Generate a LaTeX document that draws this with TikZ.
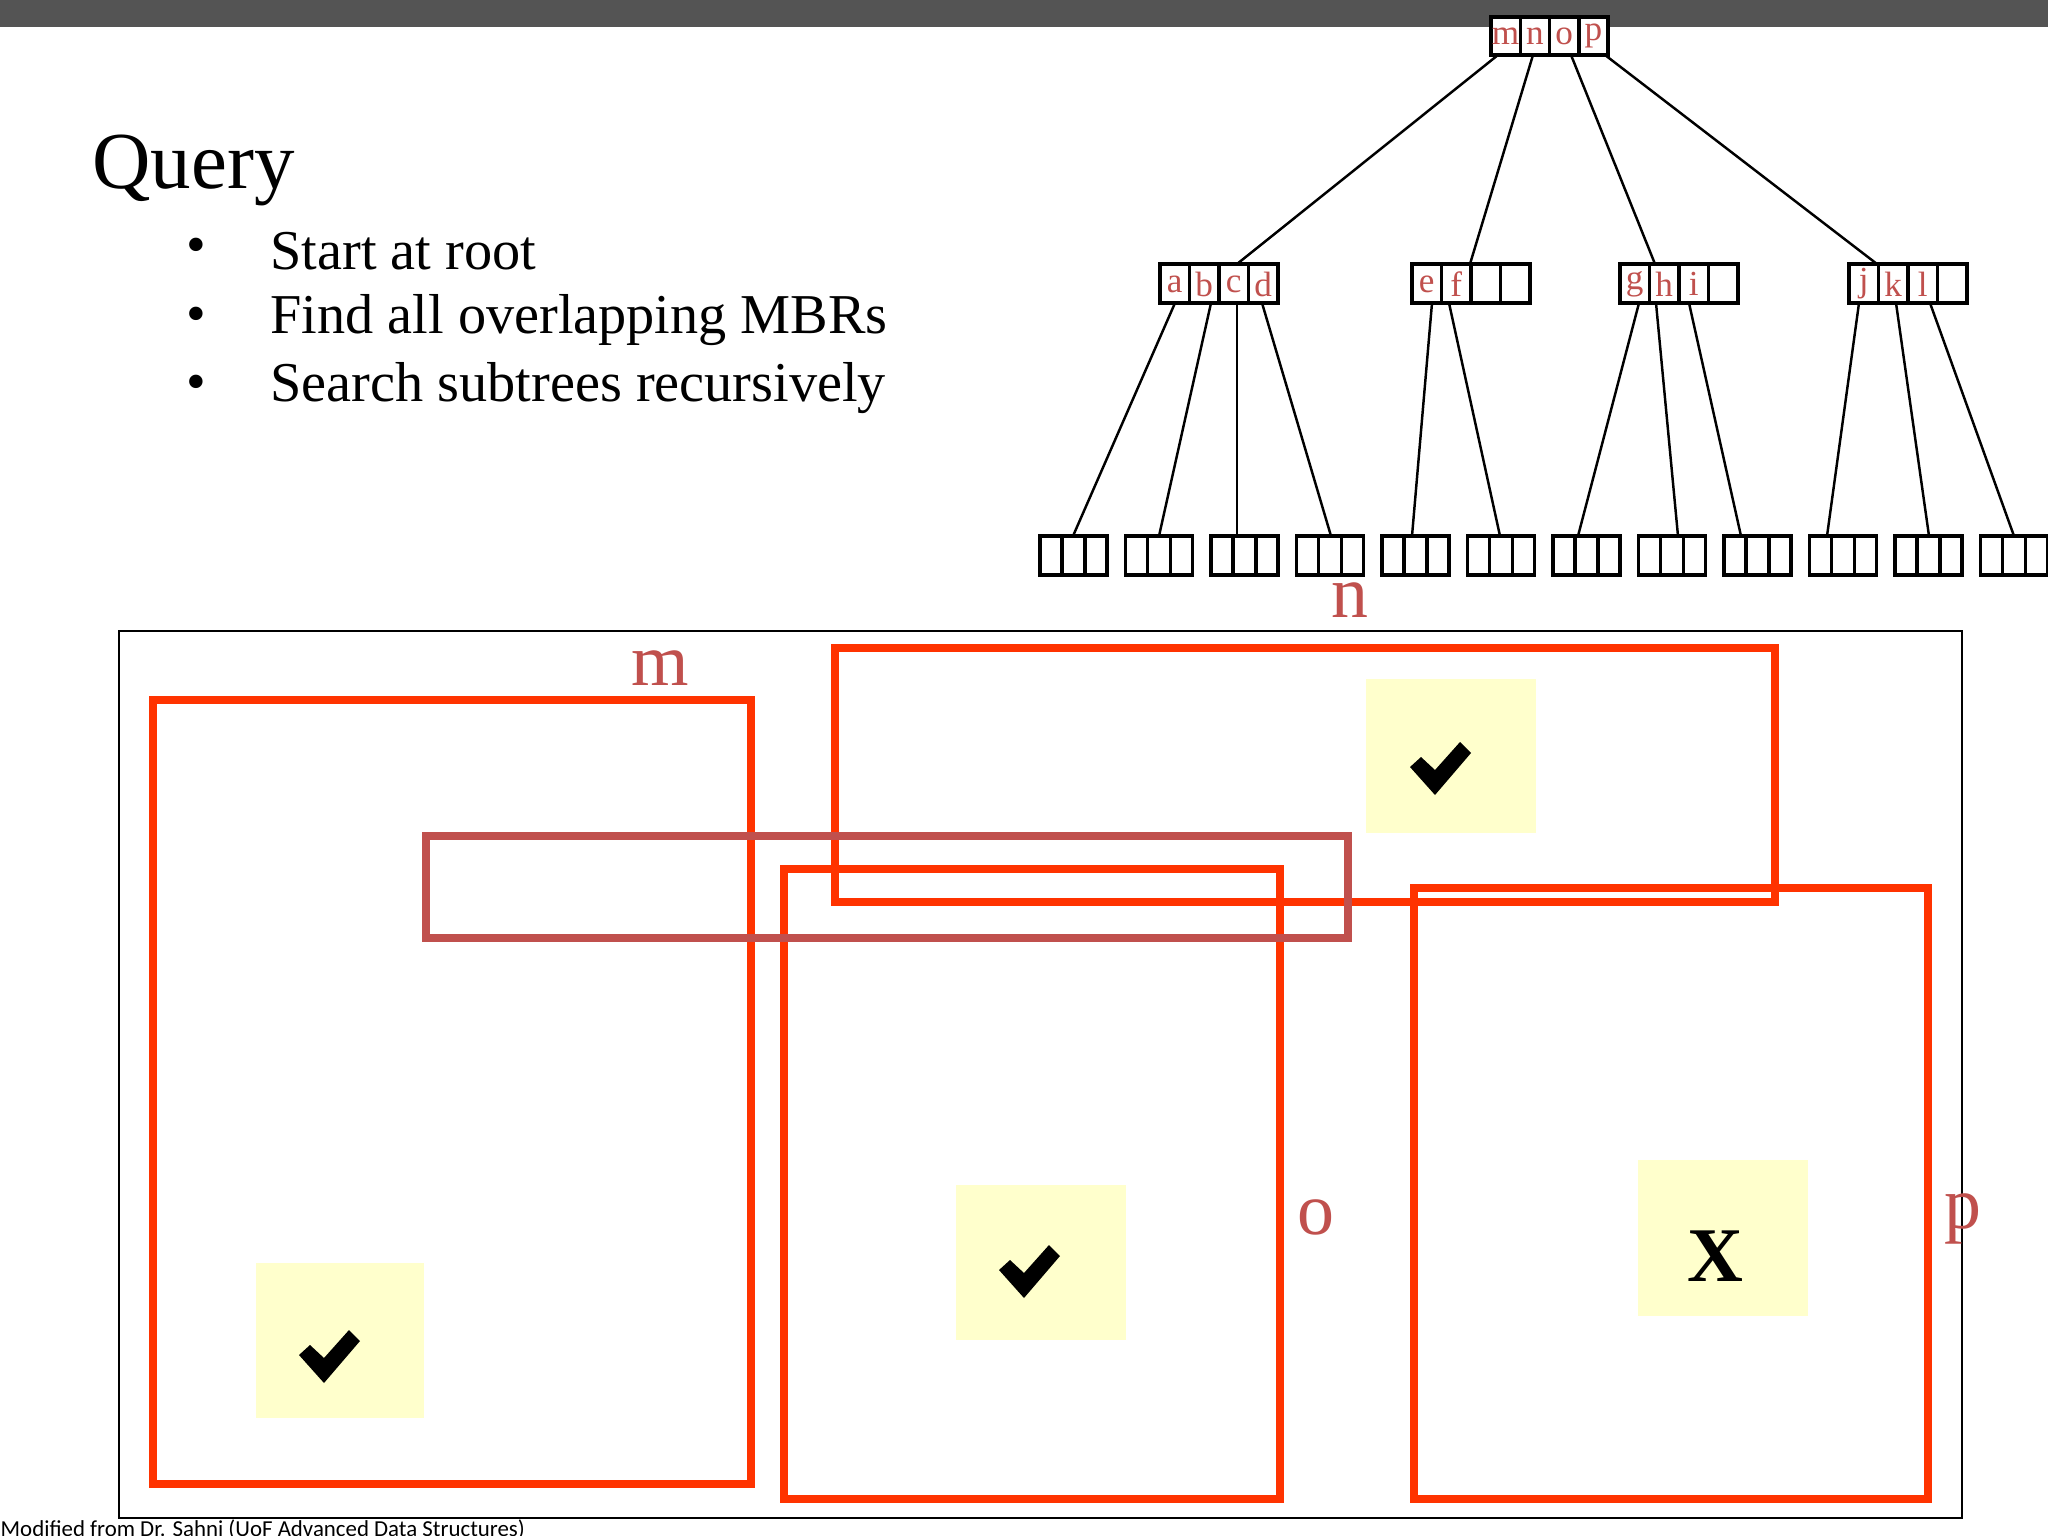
\documentclass[tikz,border=0pt]{standalone}
\usepackage{fontspec}
\setmainfont{Liberation Serif}
\newfontfamily\footfont{Carlito}
\begin{document}
\begin{tikzpicture}[x=0.01cm,y=-0.01cm,
  tbox/.style={draw=black,line width=1pt},
  tedge/.style={draw=black,line width=0.7pt},
  mbr/.style={draw={rgb,255:red,255;green,51;blue,0},line width=2.4pt},
  qbox/.style={draw={rgb,255:red,192;green,80;blue,77},line width=2.4pt},
  lbl/.style={text={rgb,255:red,192;green,80;blue,77},font=\fontsize{21}{21}\selectfont},
  tl/.style={text={rgb,255:red,192;green,80;blue,77},font=\fontsize{10}{10}\selectfont,inner sep=0},
  ybox/.style={fill={rgb,255:red,255;green,255;blue,204}},
  chk/.style={fill=black}]
\useasboundingbox (0,0) rectangle (2048,1536);
\fill[white] (0,0) rectangle (2048,1536);
\fill[black!67] (0,0) rectangle (2048,27);
% title
\node[anchor=west,font=\fontsize{23}{23}\selectfont] (title) at (80,170) {Query};
\foreach \y/\t [count=\i] in {251/Start at root,320/Find all overlapping MBRs,388/Search subtrees recursively}{
  \node[font=\fontsize{16}{16}\selectfont] (b\i) at (196,\y) {\textbullet};
  \node[anchor=west,font=\fontsize{16}{16}\selectfont] (t\i) at (258,\y) {\t};
}
% root
\fill[white] (1491,17) rectangle (1608,55);
\draw[tbox] (1491,17) rectangle (1608,55);
\foreach \k in {1,2,3} \draw[tbox] (1491+29.25*\k,17) -- (1491+29.25*\k,55);
\foreach \l [count=\k] in {m,n,o,p} \node[tl] (r\l) at (1491+29.25*\k-14.6,36) {\l};
% level 2
\foreach \nx/\nm/\la/\lb/\lc/\ld in {1160/A/a/b/c/d,1412/B/e/f//,1620/C/g/h/i/,1849/D/j/k/l/}{
  \draw[tbox] (\nx,264) rectangle (\nx+118,303);
  \foreach \k in {1,2,3} \draw[tbox] (\nx+29.5*\k,264) -- (\nx+29.5*\k,303);
  \node[tl] (\nm1) at (\nx+14.7,284) {\la};
  \node[tl] (\nm2) at (\nx+44.2,284) {\lb};
  \node[tl] (\nm3) at (\nx+73.7,284) {\lc};
  \node[tl] (\nm4) at (\nx+103.2,284) {\ld};
}
% leaves
\foreach \i in {0,...,11}{
  \draw[tbox] (1040+85.5*\i,536) rectangle (1107+85.5*\i,575);
  \draw[tbox] (1062+85.5*\i,536) -- (1062+85.5*\i,575);
  \draw[tbox] (1085+85.5*\i,536) -- (1085+85.5*\i,575);
}
% root edges
\coordinate (rm) at (1498,55); \coordinate (rn) at (1533,55);
\coordinate (ro) at (1571,55); \coordinate (rp) at (1605,55);
\coordinate (At) at (1237,264); \coordinate (Bt) at (1470,264);
\coordinate (Ct) at (1655,264); \coordinate (Dt) at (1877,264);
\draw[tedge] (rm) -- (At); \draw[tedge] (rn) -- (Bt);
\draw[tedge] (ro) -- (Ct); \draw[tedge] (rp) -- (Dt);
% level2 edges
\foreach \a/\b [count=\i] in {1175/1073,1211/1159,1237/1237,1262/1331,1432/1412,1449/1500,1639/1578,1656/1678,1689/1741,1859/1827,1896/1929,1930/2014}{
  \coordinate (s\i) at (\a,303); \coordinate (e\i) at (\b,536);
  \draw[tedge] (s\i) -- (e\i);
}
% space
\draw[black,line width=0.8pt] (119,631) rectangle (1962,1518);
\fill[ybox] (1366,679) rectangle (1536,833);
\fill[ybox] (256,1263) rectangle (424,1418);
\fill[ybox] (956,1185) rectangle (1126,1340);
\fill[ybox] (1638,1160) rectangle (1808,1316);
\draw[mbr] (153,700) rectangle (751,1484);
\draw[mbr] (835,648) rectangle (1775,902);
\draw[mbr] (784,869) rectangle (1280,1499);
\draw[mbr] (1414,888) rectangle (1928,1499);
\draw[qbox] (426,836) rectangle (1348,938);
\node[lbl] (lm) at (660,668) {m};
\node[lbl] (ln) at (1350,600) {n};
\node[lbl] (lo) at (1316,1217) {o};
\node[lbl] (lp) at (1963,1219) {p};
\foreach \cx/\cy in {1440/772,329/1360,1029/1275}{
  \fill[chk] (\cx-30,\cy-5) -- (\cx-19,\cy-15) -- (\cx-5,\cy-2) -- (\cx+20,\cy-30) -- (\cx+31,\cy-19) -- (\cx-5,\cy+23) -- cycle;
}
\node[font=\fontsize{22}{22}\selectfont\bfseries] (x) at (1715,1256) {X};
\node[anchor=south west,inner sep=0,font=\footfont\fontsize{6.5}{6.5}\selectfont] (foot) at (0,1540) {Modified from Dr. Sahni (UoF Advanced Data Structures)};
\end{tikzpicture}
\end{document}
